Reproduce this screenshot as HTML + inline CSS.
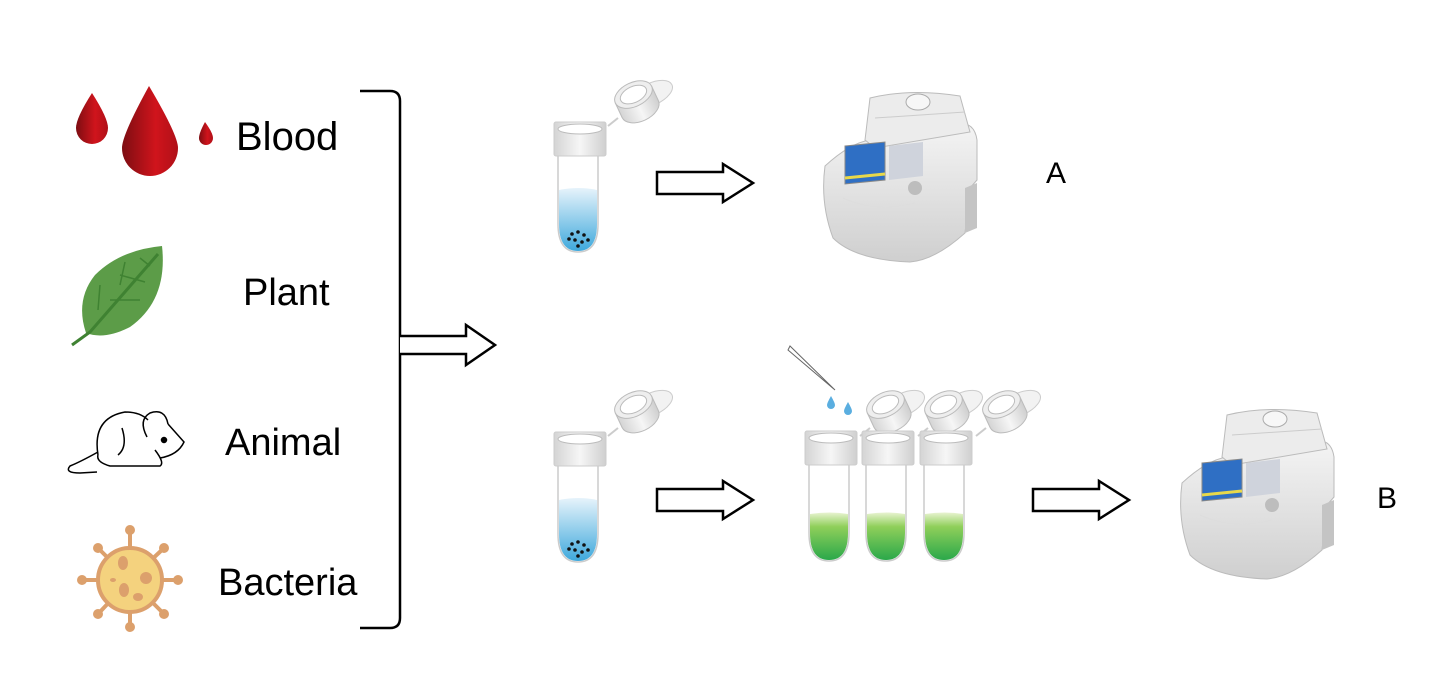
<!DOCTYPE html>
<html><head><meta charset="utf-8"><style>
html,body{margin:0;padding:0;background:#fff;}
svg{display:block;}
text{font-family:"Liberation Sans",sans-serif;fill:#000;}
</style></head><body>
<svg width="1429" height="677" viewBox="0 0 1429 677" xmlns="http://www.w3.org/2000/svg">
<defs>
<linearGradient id="red" x1="0" x2="1"><stop offset="0" stop-color="#7d0d12"/><stop offset="0.6" stop-color="#d0141c"/><stop offset="1" stop-color="#b01018"/></linearGradient>
<linearGradient id="blue" x1="0" y1="0" x2="0" y2="1"><stop offset="0" stop-color="#e6f3fb"/><stop offset="1" stop-color="#3fa9dc"/></linearGradient>
<linearGradient id="green" x1="0" y1="0" x2="0" y2="1"><stop offset="0" stop-color="#e8f3d0"/><stop offset="0.3" stop-color="#8fcf5a"/><stop offset="1" stop-color="#2aa84a"/></linearGradient>
<linearGradient id="cap" x1="0" x2="1"><stop offset="0" stop-color="#d4d4d4"/><stop offset="0.5" stop-color="#f6f6f6"/><stop offset="1" stop-color="#cfcfcf"/></linearGradient>
<linearGradient id="mach" x1="0" y1="0" x2="0" y2="1"><stop offset="0" stop-color="#f4f4f4"/><stop offset="1" stop-color="#cfcfcf"/></linearGradient>
<g id="lid">
  <path d="M4,44 L-6,52" stroke="#ccc" stroke-width="2"/>
  <ellipse cx="38" cy="20" rx="22" ry="11" fill="#f2f2f2" stroke="#ccc" transform="rotate(-25 38 20)"/>
  <g transform="rotate(-25 22 26)">
    <path d="M2,20 L2,36 A20,12 0 0 0 42,36 L42,20 Z" fill="url(#cap)" stroke="#bbb"/>
    <ellipse cx="22" cy="20" rx="20" ry="12" fill="#eee" stroke="#bbb"/>
    <ellipse cx="22" cy="20" rx="14" ry="8" fill="#fff" stroke="#bbb"/>
  </g>
</g>
<g id="tubeshell">
  <path d="M4,32 L4,102 Q4,130 24,130 Q44,130 44,102 L44,32" fill="none" stroke="#ccc" stroke-width="1.5"/>
  <rect x="0" y="0" width="52" height="34" rx="2" fill="url(#cap)" stroke="#ccc"/>
  <ellipse cx="26" cy="7" rx="22" ry="5" fill="#fff" stroke="#bbb"/>
</g>
<g id="pcr">
  <path d="M10,78 Q35,55 55,52 L150,36 Q160,38 162,52 L162,92 L155,100 L150,145 Q120,172 95,174 Q40,172 18,150 Q5,115 10,78 Z" fill="url(#mach)" stroke="#bbb"/>
  <path d="M150,100 L162,95 L162,140 L150,145 Z" fill="#c4c4c4"/>
  <path d="M50,52 L55,10 Q95,0 145,8 L155,44 L60,60 Z" fill="#ececec" stroke="#bbb"/>
  <path d="M60,30 L150,24" stroke="#ccc"/>
  <ellipse cx="103" cy="14" rx="12" ry="8" fill="#f7f7f7" stroke="#aaa"/>
  <path d="M30,58 L70,54 L70,92 L30,96 Z" fill="#2f6fc4" stroke="#888"/>
  <path d="M30,90 L70,86" stroke="#e8d84a" stroke-width="3"/>
  <path d="M74,58 L108,54 L108,88 L74,92 Z" fill="#cfd3dc"/>
  <circle cx="100" cy="100" r="7" fill="#bdbdbd"/>
  <path d="M28,110 Q60,125 100,115" fill="none" stroke="#ddd"/>
</g>
<g id="arrow"><path d="M0,-11 L66,-11 L66,-19 L96,0 L66,19 L66,11 L0,11 Z" fill="#fff" stroke="#000" stroke-width="2.5"/></g>
</defs>

<!-- blood -->
<path d="M92,93 Q108,118 108,128 A16,16 0 0 1 76,128 Q76,118 92,93 Z" fill="url(#red)"/>
<path d="M149,86 Q178,135 178,148 A28,28 0 0 1 122,148 Q122,135 149,86 Z" fill="url(#red)"/>
<path d="M205,122 Q213,133 213,138 A7,7 0 0 1 199,138 Q199,133 205,122 Z" fill="url(#red)"/>
<text x="236" y="150" font-size="40">Blood</text>
<!-- leaf -->
<path d="M162,246 Q168,300 130,327 Q105,340 86,333 Q75,300 95,275 Q120,250 162,246 Z" fill="#5c9c48"/>
<g stroke="#3f8232" stroke-width="1.5" fill="none"><path d="M110,300 L140,300 M100,285 L98,310 M120,275 L145,282 M125,262 L120,285 M140,258 L150,266"/></g>
<path d="M72,345 L90,332 L158,254" stroke="#3f8232" stroke-width="3" fill="none"/>
<text x="243" y="305" font-size="38">Plant</text>
<!-- mouse -->
<g fill="none" stroke="#000" stroke-width="1.5">
<path d="M98,455 Q92,418 125,412 Q140,412 148,420"/>
<path d="M147,437 Q138,420 150,413 Q165,408 168,424"/>
<path d="M168,424 L184,442 Q178,455 160,458"/>
<path d="M155,450 Q165,463 160,466 L110,466 Q96,462 98,455"/>
<path d="M98,452 Q80,462 70,466 Q64,473 80,473 L97,472"/>
<path d="M118,455 Q128,447 122,428"/>
<circle cx="164" cy="440" r="2.5" fill="#000"/>
</g>
<text x="225" y="455" font-size="38">Animal</text>
<!-- bacteria -->
<g stroke="#dca06c" stroke-width="4" stroke-linecap="round">
<line x1="130" y1="580" x2="130" y2="530"/><line x1="130" y1="580" x2="130" y2="627"/>
<line x1="130" y1="580" x2="82" y2="580"/><line x1="130" y1="580" x2="178" y2="580"/>
<line x1="130" y1="580" x2="98" y2="548"/><line x1="130" y1="580" x2="164" y2="548"/>
<line x1="130" y1="580" x2="98" y2="614"/><line x1="130" y1="580" x2="164" y2="614"/>
</g>
<g fill="#dca06c"><circle cx="130" cy="530" r="5"/><circle cx="130" cy="627" r="5"/><circle cx="82" cy="580" r="5"/><circle cx="178" cy="580" r="5"/><circle cx="98" cy="548" r="5"/><circle cx="164" cy="548" r="5"/><circle cx="98" cy="614" r="5"/><circle cx="164" cy="614" r="5"/></g>
<circle cx="130" cy="580" r="32" fill="#f4d27e" stroke="#dca06c" stroke-width="4"/>
<g fill="#dca06c"><ellipse cx="123" cy="563" rx="5" ry="7"/><ellipse cx="146" cy="578" rx="6" ry="6"/><ellipse cx="124" cy="590" rx="5" ry="7"/><ellipse cx="138" cy="597" rx="5" ry="4"/><ellipse cx="113" cy="580" rx="3" ry="2"/></g>
<text x="218" y="595" font-size="38">Bacteria</text>

<!-- bracket -->
<path d="M360,91 L390,91 Q400,91 400,101 L400,618 Q400,628 390,628 L360,628" fill="none" stroke="#000" stroke-width="2.5"/>
<g transform="translate(400,345)"><path d="M0,-9 L66,-9 L66,-20 L95,0 L66,20 L66,9 L0,9" fill="#fff" stroke="#000" stroke-width="2.5"/></g>

<!-- row A -->
<use href="#lid" x="614" y="74"/>
<g transform="translate(554,122)">
  <path d="M5,68 Q25,64 43,68 L43,102 Q43,129 24,129 Q5,129 5,102 Z" fill="url(#blue)"/>
  <g fill="#111"><circle cx="18" cy="112" r="1.8"/><circle cx="24" cy="110" r="1.8"/><circle cx="30" cy="113" r="1.8"/><circle cx="21" cy="118" r="1.8"/><circle cx="28" cy="120" r="1.8"/><circle cx="15" cy="117" r="1.8"/><circle cx="34" cy="118" r="1.8"/><circle cx="24" cy="124" r="1.8"/></g>
  <use href="#tubeshell"/>
</g>
<use href="#arrow" x="657" y="183"/>
<use href="#pcr" transform="translate(815,88)"/>
<text x="1046" y="183" font-size="30">A</text>

<!-- row B -->
<use href="#lid" x="614" y="384"/>
<g transform="translate(554,432)">
  <path d="M5,68 Q25,64 43,68 L43,102 Q43,129 24,129 Q5,129 5,102 Z" fill="url(#blue)"/>
  <g fill="#111"><circle cx="18" cy="112" r="1.8"/><circle cx="24" cy="110" r="1.8"/><circle cx="30" cy="113" r="1.8"/><circle cx="21" cy="118" r="1.8"/><circle cx="28" cy="120" r="1.8"/><circle cx="15" cy="117" r="1.8"/><circle cx="34" cy="118" r="1.8"/><circle cx="24" cy="124" r="1.8"/></g>
  <use href="#tubeshell"/>
</g>
<use href="#arrow" x="657" y="500"/>

<path d="M788,350 L835,390 L790,346 Z" fill="#fff" stroke="#666"/>
<path d="M831,396 Q835,403 835,405 A4,4 0 0 1 827,405 Q827,403 831,396 Z" fill="#5aaee0"/>
<path d="M848,402 Q852,409 852,411 A4,4 0 0 1 844,411 Q844,409 848,402 Z" fill="#5aaee0"/>
<use href="#lid" x="866" y="384"/>
<use href="#lid" x="924" y="384"/>
<use href="#lid" x="982" y="384"/>
<g transform="translate(805,431)"><path d="M5,83 Q25,80 43,83 L43,102 Q43,129 24,129 Q5,129 5,102 Z" fill="url(#green)"/><use href="#tubeshell"/></g>
<g transform="translate(862,431)"><path d="M5,83 Q25,80 43,83 L43,102 Q43,129 24,129 Q5,129 5,102 Z" fill="url(#green)"/><use href="#tubeshell"/></g>
<g transform="translate(920,431)"><path d="M5,83 Q25,80 43,83 L43,102 Q43,129 24,129 Q5,129 5,102 Z" fill="url(#green)"/><use href="#tubeshell"/></g>
<use href="#arrow" x="1033" y="500"/>
<use href="#pcr" transform="translate(1172,405)"/>
<text x="1377" y="508" font-size="30">B</text>
</svg>
</body></html>
